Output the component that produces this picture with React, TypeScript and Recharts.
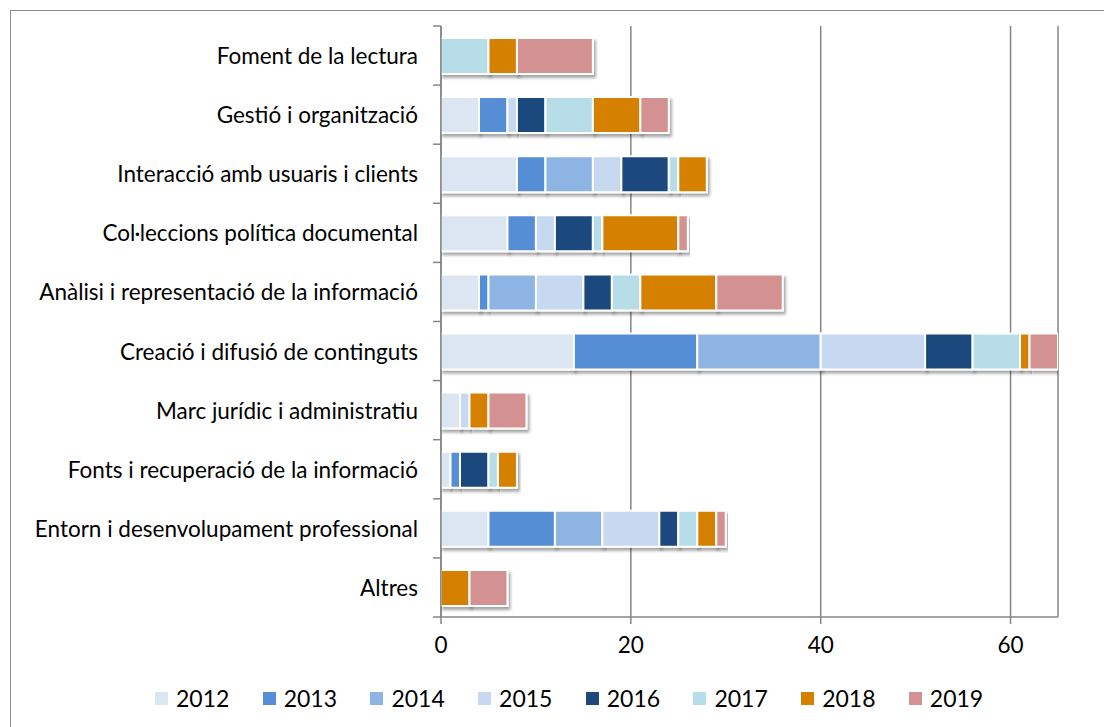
import React from "react";
import { BarChart, Bar, XAxis, YAxis, CartesianGrid, Legend } from "recharts";

const categories = [
  "Foment de la lectura",
  "Gestió i organització",
  "Interacció amb usuaris i clients",
  "Col·leccions política documental",
  "Anàlisi i representació de la informació",
  "Creació i difusió de continguts",
  "Marc jurídic i administratiu",
  "Fonts i recuperació de la informació",
  "Entorn i desenvolupament professional",
  "Altres",
];

const years = ["2012", "2013", "2014", "2015", "2016", "2017", "2018", "2019"];
const colors = ["#DCE6F2", "#558ED5", "#8EB4E3", "#C6D9F1", "#1F497D", "#B7DEE8", "#D68000", "#D39291"];

const v2012 = [0, 4, 8, 7, 4, 14, 2, 1, 5, 0];
const v2013 = [0, 3, 3, 3, 1, 13, 0, 1, 7, 0];
const v2014 = [0, 0, 5, 0, 5, 13, 0, 0, 5, 0];
const v2015 = [0, 1, 3, 2, 5, 11, 1, 0, 6, 0];
const v2016 = [0, 3, 5, 4, 3, 5, 0, 3, 2, 0];
const v2017 = [5, 5, 1, 1, 3, 5, 0, 1, 2, 0];
const v2018 = [3, 5, 3, 8, 8, 1, 2, 2, 2, 3];
const v2019 = [8, 3, 0, 1, 7, 3, 4, 0, 1, 4];

const xTicks = [0, 20, 40, 60];

const series = [v2012, v2013, v2014, v2015, v2016, v2017, v2018, v2019];
const data = categories.map((name, i) => {
  const row: Record<string, string | number> = { name };
  years.forEach((y, k) => (row[y] = series[k][i]));
  return row;
});

const FONT = "Lato, 'Open Sans', sans-serif";
const AXIS = "#868686";

function CatTick(props: any) {
  const { x, y, payload, index, visibleTicksCount } = props;
  const off = payload.offset || 0;
  const ax = x + 23;
  return (
    <g>
      <text x={x} y={y} textAnchor="end" dominantBaseline="central" fontSize={22.5} fill="#000" fontFamily={FONT}>
        {payload.value}
      </text>
      <line x1={ax - 8} x2={ax} y1={y - off} y2={y - off} stroke={AXIS} strokeWidth={1.5} />
      {index === visibleTicksCount - 1 && (
        <line x1={ax - 8} x2={ax} y1={y + off} y2={y + off} stroke={AXIS} strokeWidth={1.5} />
      )}
    </g>
  );
}

function LegendContent(props: any) {
  const items = props.payload || [];
  return (
    <div style={{ display: "flex", fontFamily: FONT, fontSize: 23, height: 30 }}>
      {items.map((it: any) => (
        <div key={it.value} style={{ display: "flex", alignItems: "center", width: 107.7 }}>
          <span style={{ width: 13, height: 13, background: it.color, marginRight: 8, display: "inline-block" }} />
          <span style={{ color: "#000" }}>{it.value}</span>
        </div>
      ))}
    </div>
  );
}

export default function App() {
  return (
    <div style={{ position: "fixed", left: 0, top: 0, width: 1104, height: 727, overflow: "hidden", background: "#fff" }}>
      <svg width={0} height={0} style={{ position: "absolute" }}>
        <defs>
          <filter id="barShadow" x="-10%" y="-20%" width="130%" height="160%">
            <feDropShadow dx={2} dy={3} stdDeviation={1.6} floodColor="#000" floodOpacity={0.35} />
          </filter>
        </defs>
      </svg>
      <div style={{ position: "absolute", left: 10, top: 10, width: 1120, height: 740, border: "1px solid #8c8c8c" }} />
      <div style={{ position: "absolute", left: 0, top: 0 }}>
        <BarChart
          width={1104}
          height={727}
          data={data}
          layout="vertical"
          margin={{ top: 26, right: 46, bottom: 50, left: 0 }}
          barSize={36}
        >
          <CartesianGrid horizontal={false} vertical stroke={AXIS} strokeWidth={1.5} />
          <XAxis
            type="number"
            domain={[0, 65]}
            ticks={xTicks}
            allowDataOverflow
            axisLine={{ stroke: AXIS, strokeWidth: 1.5 }}
            tickLine={{ stroke: AXIS, strokeWidth: 1.5 }}
            tickSize={7}
            tickMargin={13}
            tick={{ fontSize: 22.5, fill: "#000", fontFamily: FONT }}
          />
          <YAxis
            type="category"
            dataKey="name"
            width={441}
            axisLine={{ stroke: AXIS, strokeWidth: 1.5 }}
            tickLine={false}
            tickSize={8}
            tickMargin={15}
            tick={<CatTick />}
            interval={0}
          />
          <Legend
            verticalAlign="bottom"
            wrapperStyle={{ left: 155, top: 683, width: 900 }}
            content={<LegendContent />}
          />
          {years.map((y, k) => (
            <Bar
              key={y}
              dataKey={y}
              stackId="a"
              fill={colors[k]}
              stroke="#fff"
              strokeWidth={2}
              filter="url(#barShadow)"
              isAnimationActive={false}
            />
          ))}
        </BarChart>
      </div>
    </div>
  );
}
